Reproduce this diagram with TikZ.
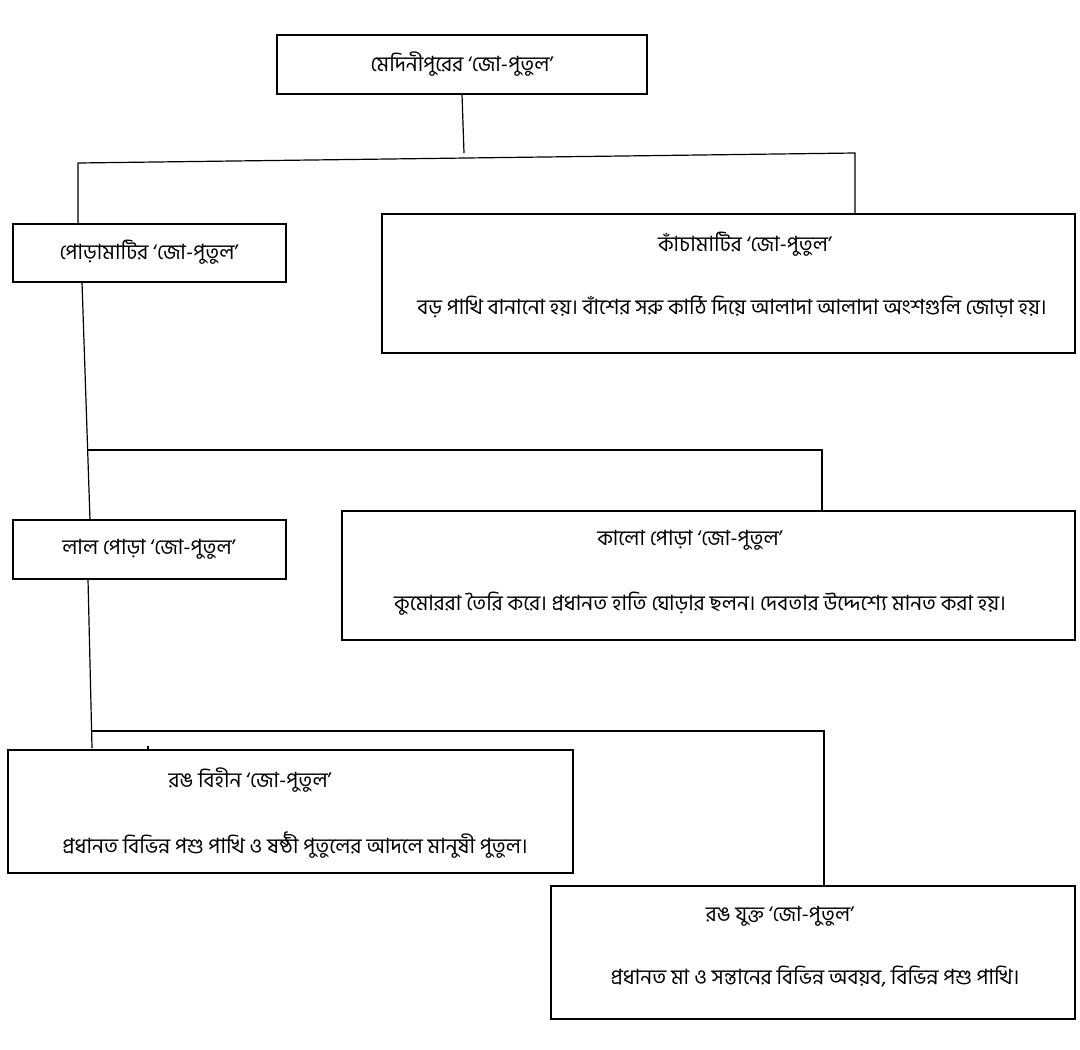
\documentclass[tikz,border=0pt]{standalone}
\usepackage{fontspec}
\newfontfamily\bn[Script=Bengali]{Hind Siliguri}
\begin{document}
\begin{tikzpicture}[x=1pt,y=-1pt,line width=1.2pt,
  tx/.style={font=\bn\fontsize{21}{24}\selectfont,inner sep=0}]
\useasboundingbox (0,0) rectangle (1080,1050);
% boxes
\draw (277,35) rectangle (647,94);
\node[tx] (t0) at (462,64) {মেদিনীপুরের ‘জো-পুতুল’};
\draw (13,224) rectangle (286,282);
\node[tx] (t1) at (149,252) {পোড়ামাটির ‘জো-পুতুল’};
\draw (382,214) rectangle (1075,353);
\node[tx] (t2) at (745,244) {কাঁচামাটির ‘জো-পুতুল’};
\node[tx] (b2) at (732,307) {বড় পাখি বানানো হয়। বাঁশের সরু কাঠি দিয়ে আলাদা আলাদা অংশগুলি জোড়া হয়।};
\draw (13,520) rectangle (286,579);
\node[tx] (t3) at (149,549) {লাল পোড়া ‘জো-পুতুল’};
\draw (342,511) rectangle (1075,640);
\node[tx] (t4) at (690,540) {কালো পোড়া ‘জো-পুতুল’};
\node[tx] (b4) at (700,604) {কুমোররা তৈরি করে। প্রধানত হাতি ঘোড়ার ছলন। দেবতার উদ্দেশ্যে মানত করা হয়।};
\draw (8,750) rectangle (573,873);
\node[tx] (t5) at (250,780) {রঙ বিহীন ‘জো-পুতুল’};
\node[tx] (b5) at (295,845) {প্রধানত বিভিন্ন পশু পাখি ও ষষ্ঠী পুতুলের আদলে মানুষী পুতুল।};
\draw (551,886) rectangle (1075,1019);
\node[tx] (t6) at (780,916) {রঙ যুক্ত ‘জো-পুতুল’};
\node[tx] (b6) at (815,977) {প্রধানত মা ও সন্তানের বিভিন্ন অবয়ব, বিভিন্ন পশু পাখি।};
% connectors
\draw (462,94) -- (464,153);
\draw (78,224) -- (78,163) -- (855,153) -- (855,214);
\draw (82,282) -- (90,520);
\draw (88,450) -- (822,450) -- (822,511);
\draw (88,579) -- (92,748);
\draw (92,731) -- (824,731) -- (824,886);
\draw (148,746) -- (148,750);
\end{tikzpicture}
\end{document}
